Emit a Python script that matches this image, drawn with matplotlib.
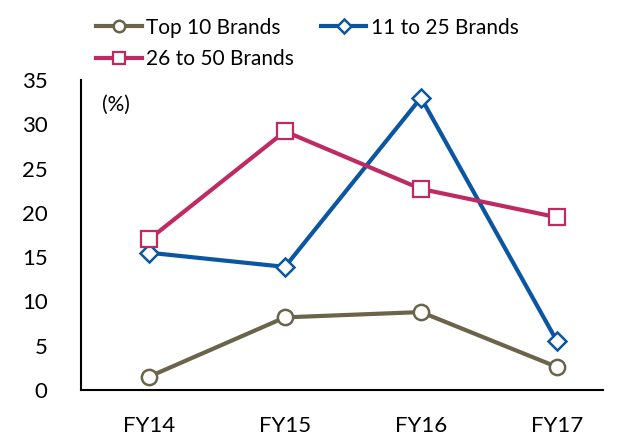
import matplotlib
matplotlib.use("Agg")
import matplotlib.pyplot as plt

categories = ["FY14", "FY15", "FY16", "FY17"]
top10 = [1.5, 8.2, 8.8, 2.6]
mid_11_25 = [15.5, 13.9, 33.0, 5.5]
low_26_50 = [17.0, 29.2, 22.7, 19.5]
yticks = [0, 5, 10, 15, 20, 25, 30, 35]

plt.rcParams['font.family'] = ['Lato', 'DejaVu Sans']

fig = plt.figure(figsize=(6.2, 4.36), dpi=100)
ax = fig.add_axes([81/620, 46/436, 522/620, 310/436])

x = list(range(len(categories)))
c_olive = "#69644A"
c_blue = "#0B56A3"
c_pink = "#BF2A63"

l1, = ax.plot(x, top10, color=c_olive, lw=3, marker="o", ms=11, mfc="white", mec=c_olive, mew=1.8, label="Top 10 Brands")
l2, = ax.plot(x, mid_11_25, color=c_blue, lw=3, marker="D", ms=9, mfc="white", mec=c_blue, mew=1.8, label="11 to 25 Brands")
l3, = ax.plot(x, low_26_50, color=c_pink, lw=3, marker="s", ms=11, mfc="white", mec=c_pink, mew=1.6, label="26 to 50 Brands")

ax.set_xlim(-0.5, -0.5 + 522/136)
ax.set_ylim(0, 35)
ax.set_yticks(yticks)
ax.set_xticks(x)
ax.set_xticklabels(categories)
ax.tick_params(axis="both", length=0, labelsize=16, colors="black")
ax.tick_params(axis="y", pad=24)
ax.tick_params(axis="x", pad=19)
for s in ["top", "right"]:
    ax.spines[s].set_visible(False)
ax.spines["left"].set_linewidth(1.5)
ax.spines["bottom"].set_linewidth(1.5)

ax.text(0.04, 0.92, "(%)", transform=ax.transAxes, fontsize=15, va="center", ha="left")

fig.legend(handles=[l1, l3, l2], loc="upper left", bbox_to_anchor=(78/620, 1.0),
           ncol=2, frameon=False, fontsize=15, handlelength=2.2, handletextpad=0.2,
           columnspacing=1.3, labelspacing=0.55, borderaxespad=0.45, markerscale=0.75)

fig.savefig("out.png", dpi=100)
